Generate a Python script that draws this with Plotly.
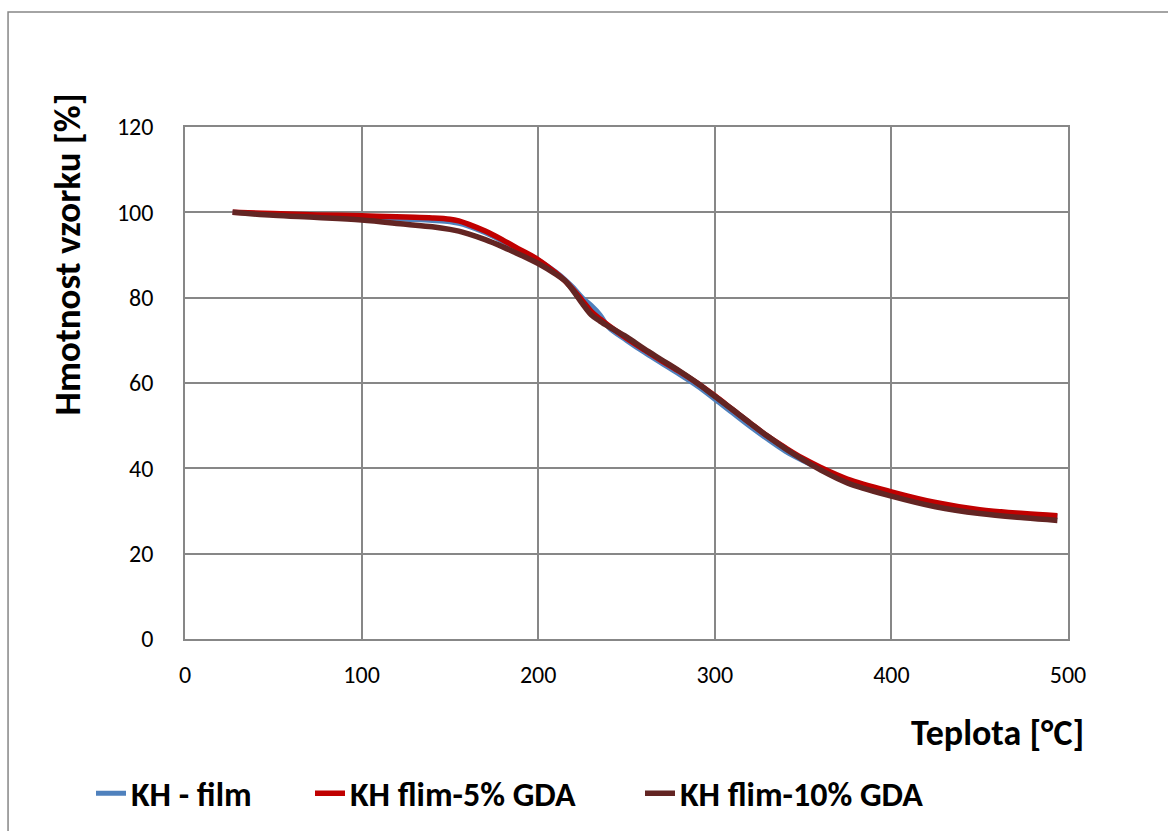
import plotly.graph_objects as go

temps = [27, 50, 75, 100, 125, 140, 150, 155, 160, 170, 180, 190, 200, 210, 215, 220, 225,
         230, 235, 240, 250, 260, 270, 280, 290, 300, 310, 320, 330, 340, 350, 360, 375,
         400, 425, 450, 475, 494]

kh_film = [100, 99.6, 99.2, 98.9, 98.4, 98.1, 97.8, 97.4, 96.8, 95.2, 93.2, 91.0, 88.8, 86.0,
           84.3, 82.3, 80.0, 78.2, 76.0, 73.0, 70.0, 67.2, 64.6, 62.0, 59.3, 56.2, 53.0, 49.8,
           46.8, 44.0, 41.8, 39.9, 37.3, 34.2, 31.8, 30.1, 29.2, 28.7]

kh_5 = [100, 99.7, 99.4, 99.2, 98.9, 98.7, 98.4, 98.0, 97.3, 95.6, 93.5, 91.2, 88.9, 85.8,
        84.0, 81.8, 79.3, 76.8, 75.0, 73.4, 70.5, 67.8, 65.2, 62.7, 60.0, 57.0, 53.8, 50.6,
        47.5, 44.8, 42.3, 40.2, 37.5, 34.5, 32.0, 30.3, 29.4, 28.9]

kh_10 = [100, 99.3, 98.8, 98.2, 97.2, 96.6, 96.0, 95.6, 95.0, 93.6, 91.9, 90.0, 88.0, 85.5,
         84.0, 81.5, 78.6, 76.0, 74.5, 73.2, 70.8, 68.0, 65.4, 62.8, 60.0, 56.9, 53.8, 50.6,
         47.5, 44.6, 42.0, 39.6, 36.6, 33.5, 31.0, 29.4, 28.4, 27.8]

series_names = ["KH - film", "KH flim-5% GDA", "KH flim-10% GDA"]
x_ticks = [0, 100, 200, 300, 400, 500]
y_ticks = [0, 20, 40, 60, 80, 100, 120]

FONT = "Calibri, Carlito, Lato, sans-serif"
GRID = "#878787"

fig = go.Figure()
fig.add_trace(go.Scatter(x=temps, y=kh_film, mode="lines", name=series_names[0], legend="legend",
                         line=dict(color="#4F81BD", width=5, shape="spline")))
fig.add_trace(go.Scatter(x=temps, y=kh_5, mode="lines", name=series_names[1], legend="legend2",
                         line=dict(color="#C00000", width=5.5, shape="spline")))
fig.add_trace(go.Scatter(x=temps, y=kh_10, mode="lines", name=series_names[2], legend="legend3",
                         line=dict(color="#632523", width=5.5, shape="spline")))


def leg(xpx):
    return dict(orientation="h", x=(xpx - 185) / 883, xanchor="left", y=-0.302, yanchor="middle",
                font=dict(family=FONT, size=34, color="black", weight="bold"),
                itemwidth=30, bgcolor="rgba(0,0,0,0)")


fig.update_layout(
    width=1168, height=831,
    margin=dict(l=185, r=100, t=127, b=192, autoexpand=False),
    paper_bgcolor="white", plot_bgcolor="white",
    font=dict(family=FONT, color="black", size=24),
    showlegend=True,
    legend=leg(91),
    legend2=leg(310),
    legend3=leg(640),
    xaxis=dict(range=[0, 500], tickvals=x_ticks, showgrid=True, gridcolor=GRID, gridwidth=1.5,
               showline=True, linecolor=GRID, linewidth=1.5, mirror=True, zeroline=False,
               ticks="", ticklabelstandoff=13, tickfont=dict(size=24, family=FONT)),
    yaxis=dict(range=[0, 120], tickvals=y_ticks, showgrid=True, gridcolor=GRID, gridwidth=1.5,
               showline=True, linecolor=GRID, linewidth=1.5, mirror=True, zeroline=False,
               ticks="", ticklabelstandoff=25, tickfont=dict(size=24, family=FONT)),
    annotations=[
        dict(text="<b>Teplota [°C]</b>", xref="paper", yref="paper", x=1.02, y=-0.184,
             xanchor="right", yanchor="middle", showarrow=False,
             font=dict(family=FONT, size=36, color="black")),
        dict(text="<b>Hmotnost vzorku [%]</b>", xref="paper", yref="paper", x=-0.132, y=0.752,
             xanchor="center", yanchor="middle", textangle=-90, showarrow=False,
             font=dict(family=FONT, size=37, color="black")),
    ],
    shapes=[dict(type="rect", xref="paper", yref="paper", x0=-0.2004, x1=1.2, y0=-0.6, y1=1.2246,
                 line=dict(color=GRID, width=1.5), fillcolor="rgba(0,0,0,0)", layer="below")],
)

fig.write_html("out.html")
